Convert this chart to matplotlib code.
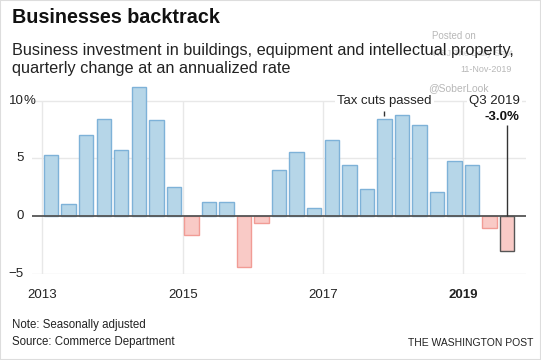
import matplotlib.pyplot as plt
import matplotlib.transforms as mtransforms
from matplotlib.patches import Rectangle

plt.rcParams['font.family'] = ['Liberation Sans', 'DejaVu Sans']

quarters = ['2013Q1', '2013Q2', '2013Q3', '2013Q4', '2014Q1', '2014Q2', '2014Q3', '2014Q4',
            '2015Q1', '2015Q2', '2015Q3', '2015Q4', '2016Q1', '2016Q2', '2016Q3', '2016Q4',
            '2017Q1', '2017Q2', '2017Q3', '2017Q4', '2018Q1', '2018Q2', '2018Q3', '2018Q4',
            '2019Q1', '2019Q2', '2019Q3']
growth = [5.3, 1.1, 7.0, 8.4, 5.7, 11.2, 8.3, 2.5,
          -1.6, 1.2, 1.2, -4.4, -0.6, 4.0, 5.6, 0.7,
          6.6, 4.4, 2.4, 8.4, 8.8, 7.9, 2.1, 4.8,
          4.4, -1.0, -3.0]
year_ticks = [2013, 2015, 2017, 2019]
y_ticks = [-5, 0, 5, 10]
tax_cut_quarter = '2017Q4'

# bar centre = middle of the quarter
xpos = [int(q[:4]) + (int(q[-1]) - 1) / 4 + 0.125 for q in quarters]

W, H = 541, 360
fig = plt.figure(figsize=(W / 100, H / 100), dpi=100)
fig.patches.append(Rectangle((0, 0), 1, 1, transform=fig.transFigure, fill=False,
                             edgecolor='#dddddd', linewidth=1.5))

ax = fig.add_axes([32 / W, (H - 274) / H, (526 - 32) / W, (274 - 83.4) / H])
ax.set_xlim(2012.853, 2019.893)
ax.set_ylim(-5, 11.5)

grid = '#e8e8e8'
for y in y_ticks:
    if y != 0:
        ax.axhline(y, color=grid, lw=1, zorder=0)
ax.vlines(year_ticks, -5, 10, color=grid, lw=1, zorder=0)

blue, blue_e = '#b6d6e8', '#7eb2d8'
red, red_e = '#f9cac6', '#f19c95'
fills = [blue if v >= 0 else red for v in growth]
edges = [blue_e if v >= 0 else red_e for v in growth]
edges[-1] = '#555555'
ax.bar(xpos, growth, width=0.205, color=fills, edgecolor=edges, linewidth=1, zorder=2)
ax.axhline(0, color='#555555', lw=1.3, zorder=3)

for s in ax.spines.values():
    s.set_visible(False)
ax.set_yticks([])
ax.set_xticks(year_ticks)
ax.set_xticklabels([str(y) for y in year_ticks], fontsize=9.5, color='#222222')
ax.get_xticklabels()[-1].set_fontweight('bold')
ax.tick_params(axis='x', length=0, pad=11)

# y labels, numbers right-aligned, % hanging
tr = mtransforms.blended_transform_factory(fig.transFigure, ax.transData)
for y in y_ticks:
    lab = str(y).replace('-', '\u2212')
    ax.text(23.5 / W, y, lab, transform=tr, ha='right', va='center', fontsize=9.5, color='#222222')
ax.text(23.5 / W, y_ticks[-1], '%', transform=tr, ha='left', va='center', fontsize=9.5, color='#222222')

# annotations
box = dict(facecolor='white', edgecolor='none', pad=1.5)
xt = xpos[quarters.index(tax_cut_quarter)]
ax.text(xt, 10, 'Tax cuts passed', ha='center', va='center', fontsize=9.5, color='#222222',
        bbox=box, zorder=4)
ax.vlines(xt, 8.65, 9.15, color='#333333', lw=1, zorder=4)

xl = xpos[-1]
ax.annotate('Q3 2019', (xl, 10), xytext=(9, 0), textcoords='offset points', ha='right',
            va='center', fontsize=9.5, color='#222222', bbox=box, zorder=4)
ax.annotate('%.1f%%' % growth[-1], (xl, 8.62), xytext=(9, 0), textcoords='offset points',
            ha='right', va='center', fontsize=9.5, fontweight='bold', color='#111111', zorder=4)
ax.vlines(xl, 0, 7.88, color='#333333', lw=1, zorder=4)

# header
fig.text(12 / W, 1 - 17.5 / H, 'Businesses backtrack', fontsize=14.2, fontweight='bold',
         va='center', color='#111111')
# watermark (sits behind the subtitle, as in the source image)
wm = '#b8b8b8'
fig.text(476 / W, 1 - 36 / H, 'Posted on', fontsize=7, color=wm, ha='right', va='center')
fig.text(512 / W, 1 - 53 / H, 'WSJ The Daily Shot', fontsize=6.5, color='#d0d0d0', ha='right',
         va='center', zorder=0)
fig.text(512 / W, 1 - 69 / H, '11-Nov-2019', fontsize=6.5, color=wm, ha='right', va='center')
fig.text(489 / W, 1 - 88 / H, '@SoberLook', fontsize=7.5, color=wm, ha='right', va='center')

fig.text(12 / W, 1 - 50 / H, 'Business investment in buildings, equipment and intellectual property,',
         fontsize=11.7, va='center', color='#222222')
fig.text(12 / W, 1 - 69 / H, 'quarterly change at an annualized rate',
         fontsize=11.7, va='center', color='#222222')

# footer
fig.text(12 / W, 1 - 325 / H, 'Note: Seasonally adjusted', fontsize=8.3, va='center', color='#222222')
fig.text(12 / W, 1 - 342.5 / H, 'Source: Commerce Department', fontsize=8.3, va='center', color='#222222')
fig.text(533 / W, 1 - 342.5 / H, 'THE WASHINGTON POST', fontsize=7.5, ha='right', va='center',
         color='#222222')

fig.savefig('out.png', dpi=100)
